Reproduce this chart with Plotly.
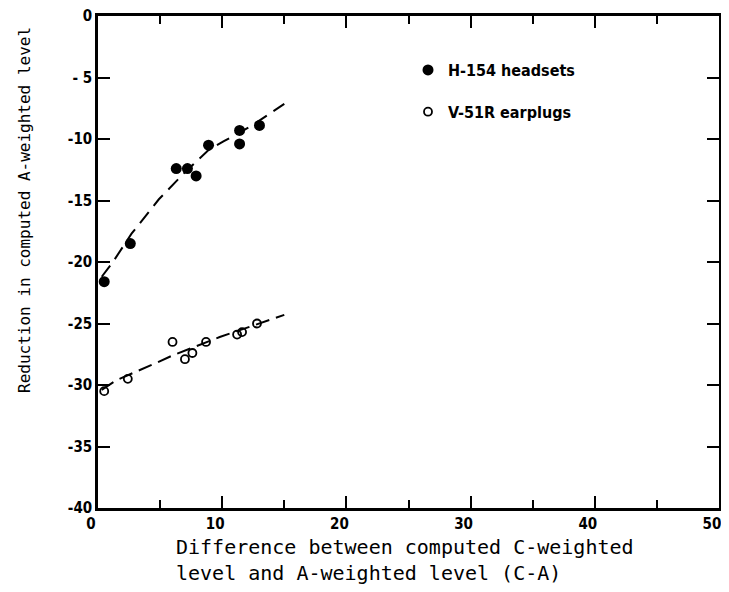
import plotly.graph_objects as go

# Measured points
h154_x = [0.5, 2.6, 6.3, 7.2, 7.9, 8.9, 11.4, 11.4, 13.0]
h154_y = [-21.6, -18.5, -12.4, -12.4, -13.0, -10.5, -9.3, -10.4, -8.9]

v51r_x = [0.5, 2.4, 6.0, 7.0, 7.6, 8.7, 11.2, 11.6, 12.8]
v51r_y = [-30.5, -29.5, -26.5, -27.9, -27.4, -26.5, -25.9, -25.7, -25.0]

# Fitted dashed curves
h154_fit_x = [0.3, 1.2, 2.7, 4.9, 7.0, 8.9, 10.1, 12.4, 15.0]
h154_fit_y = [-21.2, -20.0, -17.7, -14.9, -12.7, -10.9, -10.2, -8.9, -7.15]

v51r_fit_x = [0.3, 1.5, 4.7, 6.0, 9.8, 14.6, 15.0]
v51r_fit_y = [-30.4, -29.6, -28.2, -27.6, -26.1, -24.45, -24.3]

x_ticks = [0, 10, 20, 30, 40, 50]
x_ticktext = ["0", "10", "20", "30", "40", "50"]
y_ticks = [0, -5, -10, -15, -20, -25, -30, -35, -40]
y_ticktext = ["0", "- 5", "-10", "-15", "-20", "-25", "-30", "-35", "-40"]

fig = go.Figure()

fig.add_trace(go.Scatter(x=h154_fit_x, y=h154_fit_y, mode="lines",
                         line=dict(color="black", width=2, dash="14px,8px"),
                         showlegend=False, hoverinfo="skip"))
fig.add_trace(go.Scatter(x=v51r_fit_x, y=v51r_fit_y, mode="lines",
                         line=dict(color="black", width=2, dash="14px,7px"),
                         showlegend=False, hoverinfo="skip"))
fig.add_trace(go.Scatter(x=h154_x, y=h154_y, mode="markers", name="H-154 headsets",
                         legendgroup="a",
                         marker=dict(symbol="circle", size=11, color="black")))
fig.add_trace(go.Scatter(x=v51r_x, y=v51r_y, mode="markers", name="V-51R earplugs",
                         legendgroup="b",
                         marker=dict(symbol="circle-open", size=8, color="black",
                                     line=dict(width=1.8, color="black"))))

tickfont = dict(family="Liberation Sans Narrow, DejaVu Sans Condensed, Arial Narrow, sans-serif",
                size=15, color="black", weight="bold")

fig.update_xaxes(range=[0, 50], tickvals=x_ticks, ticktext=x_ticktext,
                 ticks="inside", ticklen=12, tickwidth=2, tickcolor="black",
                 minor=dict(dtick=5, tick0=0, ticks="inside", ticklen=8, tickwidth=2, tickcolor="black"),
                 showline=True, linewidth=2.5, linecolor="black", mirror="ticks",
                 showgrid=False, zeroline=False, tickfont=tickfont,
                 automargin=False, ticklabeloverflow="allow", ticklabelshift=-7)
fig.update_yaxes(range=[-40, 0], tickvals=y_ticks, ticktext=y_ticktext,
                 ticks="inside", ticklen=12, tickwidth=2, tickcolor="black",
                 showline=True, linewidth=2.5, linecolor="black", mirror="ticks",
                 showgrid=False, zeroline=False, tickfont=tickfont,
                 automargin=False, ticklabeloverflow="allow")

mono = "DejaVu Sans Mono, Liberation Mono, monospace"
# page body has an 8px default margin, so the figure is drawn from (8, 8);
# keep the figure inside the 729x592 window so no scrollbar appears
OFF = 8
W, H = 713, 576
L, R, T, B = 90, 2, 8, 76
pw, ph = W - L - R, H - T - B

def px(xp):
    return (xp - OFF - L) / pw

def py(yp):
    return (H - B - (yp - OFF)) / ph

fig.add_annotation(text="Difference between computed C-weighted<br>level and A-weighted level (C-A)",
                   xref="paper", yref="paper", align="left",
                   x=px(174), y=py(560), xanchor="left", yanchor="middle", showarrow=False,
                   font=dict(family=mono, size=20, color="black"))
fig.add_annotation(text="Reduction in computed A-weighted level", xref="paper", yref="paper",
                   x=px(24), y=py(210), xanchor="center", yanchor="middle", textangle=-90,
                   showarrow=False, font=dict(family=mono, size=16, color="black"))

fig.update_layout(
    width=W, height=H,
    margin=dict(l=L, r=R, t=T, b=B, autoexpand=False),
    plot_bgcolor="white", paper_bgcolor="white",
    legend=dict(x=px(408), y=py(53), xanchor="left", yanchor="top",
                traceorder="grouped", tracegroupgap=18,
                font=dict(family="DejaVu Sans Condensed, Liberation Sans Narrow, sans-serif",
                          size=16, color="black", weight="bold"),
                bgcolor="rgba(0,0,0,0)", itemwidth=30),
)

fig.write_html("out.html")
